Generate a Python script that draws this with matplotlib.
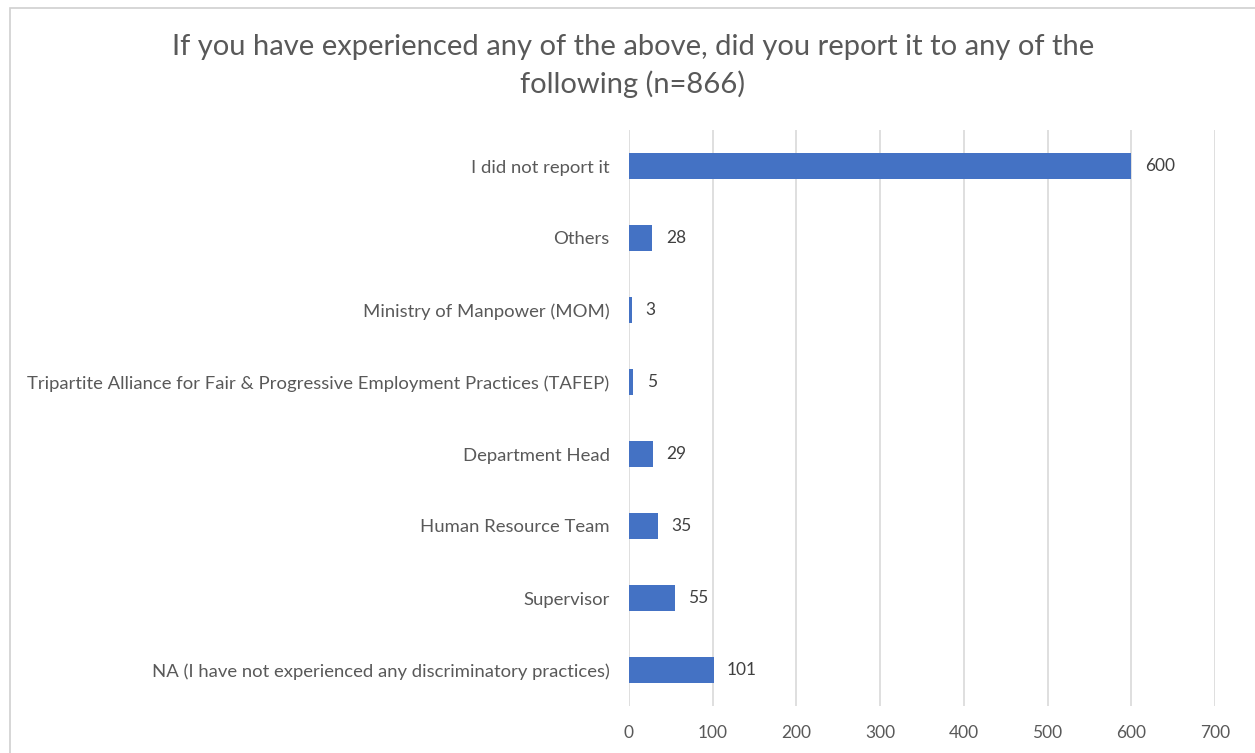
import matplotlib
matplotlib.use("Agg")
import matplotlib.pyplot as plt
from matplotlib.patches import Rectangle

categories = [
    "I did not report it",
    "Others",
    "Ministry of Manpower (MOM)",
    "Tripartite Alliance for Fair & Progressive Employment Practices (TAFEP)",
    "Department Head",
    "Human Resource Team",
    "Supervisor",
    "NA (I have not experienced any discriminatory practices)",
]
counts = [600, 28, 3, 5, 29, 35, 55, 101]
x_ticks = [0, 100, 200, 300, 400, 500, 600, 700]
title = "If you have experienced any of the above, did you report it to any of the\nfollowing (n=866)"

plt.rcParams["font.family"] = ["Lato", "DejaVu Sans"]
text_color = "#595959"
bar_color = "#4472C4"
grid_color = "#D9D9D9"

W, H = 1255, 753
fig = plt.figure(figsize=(W / 100, H / 100), dpi=100)
fig.patch.set_facecolor("white")

# outer chart border
fig.add_artist(Rectangle((10 / W, -0.01), 1.02, 1 - 8 / H + 0.01,
                         transform=fig.transFigure, fill=False,
                         edgecolor="#D0D0D0", linewidth=1.2))

ax = fig.add_axes([629 / W, 1 - 706 / H, (1215 - 629) / W, 576 / H])
ypos = list(range(len(categories)))
ax.barh(ypos, counts, height=0.35, color=bar_color, zorder=3)
ax.set_ylim(len(categories) - 0.5, -0.5)
ax.set_xlim(0, 700)
ax.set_xticks(x_ticks)
ax.set_xticklabels([str(t) for t in x_ticks])
ax.set_yticks(ypos)
ax.set_yticklabels(categories)

for y, v in zip(ypos, counts):
    ax.text(v + 16, y, str(v), va="center", ha="left", fontsize=12.5,
            color="#404040", zorder=4)

ax.grid(axis="x", color=grid_color, linewidth=1.2, zorder=0)
for s in ax.spines.values():
    s.set_visible(False)
ax.tick_params(axis="both", length=0, colors=text_color)
ax.tick_params(axis="y", pad=14, labelsize=13.3)
ax.tick_params(axis="x", pad=14, labelsize=12.5)

fig.text(633 / W, 1 - 66 / H, title, ha="center", va="center",
         fontsize=21, color=text_color, linespacing=1.5)

fig.savefig("out.png", dpi=100, facecolor="white")
